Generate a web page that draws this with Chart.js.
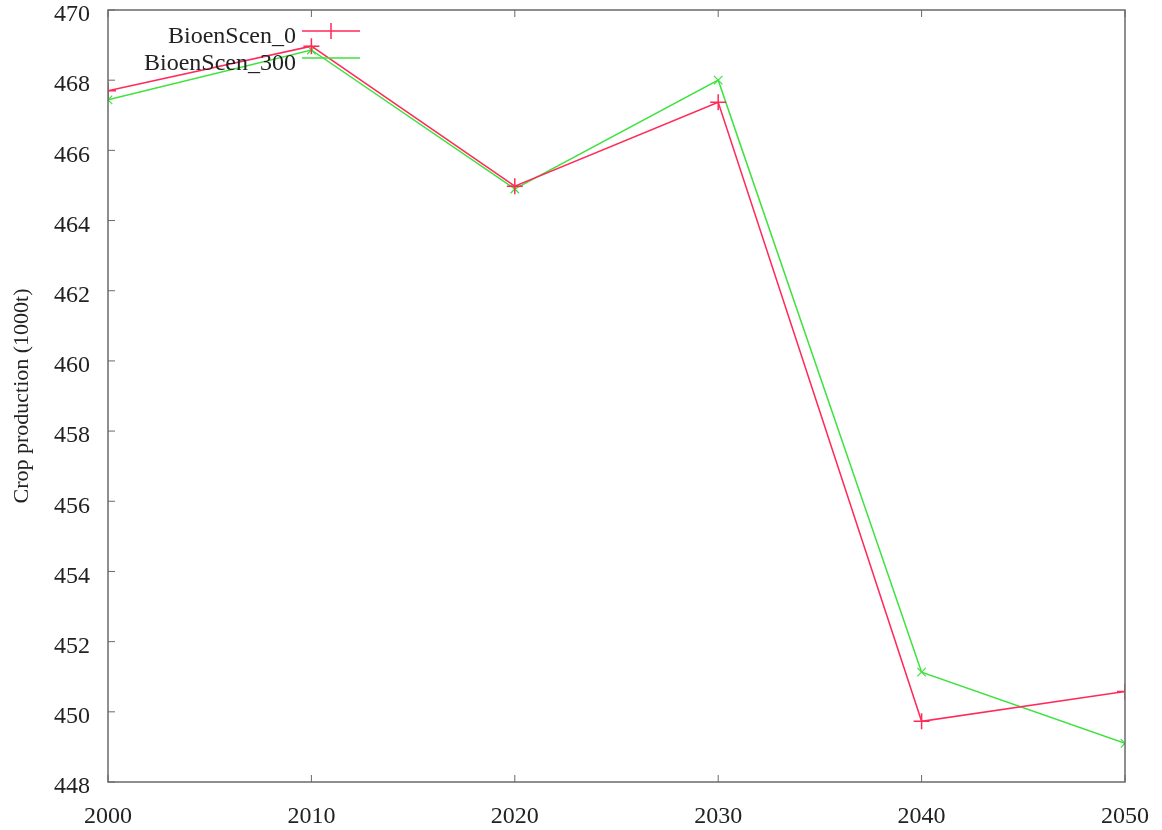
<!DOCTYPE html>
<html lang="en">
<head>
    <meta charset="UTF-8">
    <title>Crop production</title>
    <script src="https://cdn.jsdelivr.net/npm/chart.js@4/dist/chart.umd.min.js"></script>
    <style>
        html, body {
            margin: 0;
            padding: 0;
            background: #ffffff;
        }
        #chartContainer {
            width: 1162px;
            height: 830px;
        }
    </style>
</head>
<body>
    <div id="chartContainer">
        <canvas id="cropChart"></canvas>
    </div>

    <script>
        const years = [2000, 2010, 2020, 2030, 2040, 2050];
        const bioenScen0 = [467.7, 468.97, 464.98, 467.37, 449.73, 450.58];
        const bioenScen300 = [467.44, 468.86, 464.9, 468.0, 451.13, 449.1];
        const yTicks = [448, 450, 452, 454, 456, 458, 460, 462, 464, 466, 468, 470];
        const xTicks = [2000, 2010, 2020, 2030, 2040, 2050];

        const serif = "'Liberation Serif', 'DejaVu Serif', serif";
        const axisColor = '#6a6a6a';

        // gnuplot-like frame: box around the plot with small inward tick marks
        const framePlugin = {
            id: 'frame',
            afterDatasetsDraw(chart) {
                const { ctx, chartArea: a, scales } = chart;
                ctx.save();
                ctx.strokeStyle = axisColor;
                ctx.lineWidth = 1.5;
                ctx.strokeRect(a.left, a.top, a.right - a.left, a.bottom - a.top);
                ctx.lineWidth = 1;
                yTicks.forEach(v => {
                    const y = scales.y.getPixelForValue(v);
                    ctx.beginPath();
                    ctx.moveTo(a.left, y);
                    ctx.lineTo(a.left + 7, y);
                    ctx.stroke();
                });
                xTicks.forEach(v => {
                    const x = scales.x.getPixelForValue(v);
                    ctx.beginPath();
                    ctx.moveTo(x, a.bottom);
                    ctx.lineTo(x, a.bottom - 7);
                    ctx.moveTo(x, a.top);
                    ctx.lineTo(x, a.top + 7);
                    ctx.stroke();
                });
                ctx.restore();
            }
        };

        // key in the top-left corner: label text, then a short sample line with its marker
        const keyPlugin = {
            id: 'key',
            afterDraw(chart) {
                const { ctx } = chart;
                ctx.save();
                ctx.font = '24px ' + serif;
                ctx.textAlign = 'right';
                ctx.textBaseline = 'middle';
                chart.data.datasets.forEach((ds, i) => {
                    const y = 31 + i * 27;
                    ctx.fillStyle = '#222';
                    ctx.fillText(ds.label, 296, y + 6);
                    ctx.strokeStyle = ds.borderColor;
                    ctx.lineWidth = 1.5;
                    ctx.beginPath();
                    ctx.moveTo(302, y);
                    ctx.lineTo(360, y);
                    if (i === 0) {
                        ctx.moveTo(331, y - 8);
                        ctx.lineTo(331, y + 8);
                    }
                    ctx.stroke();
                });
                ctx.restore();
            }
        };

        const ctx = document.getElementById('cropChart').getContext('2d');

        new Chart(ctx, {
            type: 'line',
            data: {
                datasets: [
                    {
                        label: 'BioenScen_0',
                        data: years.map((yr, i) => ({ x: yr, y: bioenScen0[i] })),
                        borderColor: '#ff2a5a',
                        backgroundColor: '#ff2a5a',
                        borderWidth: 1.5,
                        pointStyle: 'cross',
                        pointRadius: 8,
                        pointBorderWidth: 1.5,
                        tension: 0
                    },
                    {
                        label: 'BioenScen_300',
                        data: years.map((yr, i) => ({ x: yr, y: bioenScen300[i] })),
                        borderColor: '#3ee23e',
                        backgroundColor: '#3ee23e',
                        borderWidth: 1.5,
                        pointStyle: 'crossRot',
                        pointRadius: 6,
                        pointBorderWidth: 1.2,
                        tension: 0
                    }
                ]
            },
            options: {
                responsive: true,
                maintainAspectRatio: false,
                animation: false,
                layout: {
                    padding: { top: 10, right: 37, left: 0, bottom: 0 }
                },
                scales: {
                    x: {
                        type: 'linear',
                        min: 2000,
                        max: 2050,
                        afterBuildTicks: scale => {
                            scale.ticks = xTicks.map(v => ({ value: v }));
                        },
                        afterFit: scale => {
                            scale.height = 48;
                            scale.paddingLeft = 0;
                            scale.paddingRight = 0;
                        },
                        grid: { display: false },
                        border: { display: false },
                        ticks: {
                            padding: 12,
                            color: '#222',
                            maxRotation: 0,
                            autoSkip: false,
                            font: { family: serif, size: 24 },
                            callback: v => String(v)
                        }
                    },
                    y: {
                        min: 448,
                        max: 470,
                        afterBuildTicks: scale => {
                            scale.ticks = yTicks.map(v => ({ value: v }));
                        },
                        afterFit: scale => {
                            scale.width = 108;
                            scale.paddingTop = 0;
                            scale.paddingBottom = 0;
                        },
                        grid: { display: false },
                        border: { display: false },
                        title: {
                            display: true,
                            text: 'Crop production (1000t)',
                            color: '#222',
                            font: { family: serif, size: 22 },
                            padding: { top: 9, bottom: 0 }
                        },
                        ticks: {
                            padding: 10,
                            labelOffset: 5,
                            color: '#222',
                            autoSkip: false,
                            font: { family: serif, size: 24 },
                            callback: v => String(v)
                        }
                    }
                },
                plugins: {
                    legend: { display: false },
                    tooltip: { enabled: false }
                }
            },
            plugins: [framePlugin, keyPlugin]
        });
    </script>
</body>
</html>
